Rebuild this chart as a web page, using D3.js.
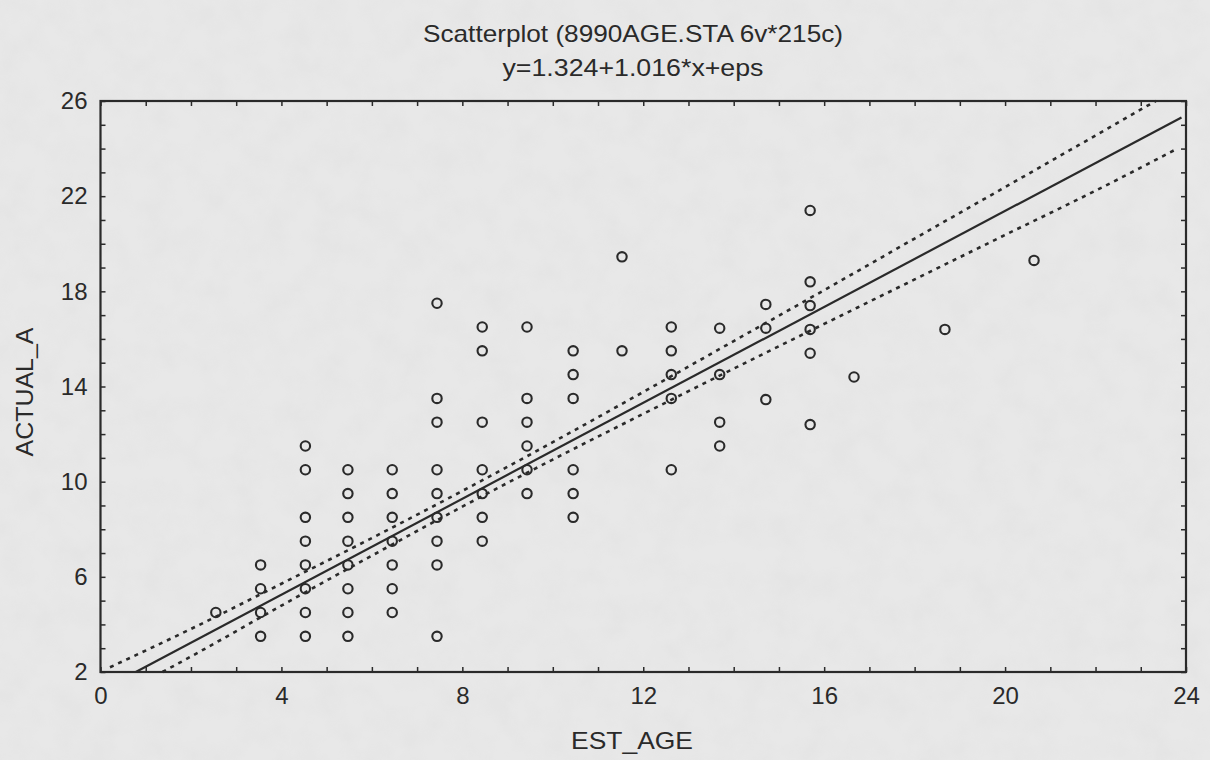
<!DOCTYPE html>
<html>
<head>
<meta charset="utf-8">
<script src="https://cdn.jsdelivr.net/npm/d3@7/dist/d3.min.js"></script>
<style>
  html, body { margin: 0; padding: 0; background: #e7e7e7; }
  svg { display: block; }
  text { font-family: "Liberation Sans", Arial, sans-serif; fill: #2a2a2a; }
</style>
</head>
<body>
<svg id="chart" width="1210" height="760"></svg>
<script>
// ---- data ----
const titleText = "Scatterplot (8990AGE.STA 6v*215c)";
const equationText = "y=1.324+1.016*x+eps";
const xLabel = "EST_AGE";
const yLabel = "ACTUAL_A";

const xTickLabels = [0, 4, 8, 12, 16, 20, 24];
const yTickLabels = [2, 6, 10, 14, 18, 22, 26];
const xMinorTicks = [0,1,2,3,4,5,6,7,8,9,10,11,12,13,14,15,16,17,18,19,20,21,22,23,24];
const yMinorTicks = [2,3,4,5,6,7,8,9,10,11,12,13,14,15,16,17,18,19,20,21,22,23,24,25,26];

const estAge = [
  2.55,
  3.54, 3.54, 3.54, 3.54,
  4.53, 4.53, 4.53, 4.53, 4.53, 4.53, 4.53, 4.53,
  5.47, 5.47, 5.47, 5.47, 5.47, 5.47, 5.47, 5.47,
  6.45, 6.45, 6.45, 6.45, 6.45, 6.45, 6.45,
  7.44, 7.44, 7.44, 7.44, 7.44, 7.44, 7.44, 7.44, 7.44,
  8.44, 8.44, 8.44, 8.44, 8.44, 8.44, 8.44,
  9.43, 9.43, 9.43, 9.43, 9.43, 9.43,
  10.45, 10.45, 10.45, 10.45, 10.45, 10.45,
  11.53, 11.53,
  12.62, 12.62, 12.62, 12.62, 12.62,
  13.69, 13.69, 13.69, 13.69,
  14.71, 14.71, 14.71,
  15.69, 15.69, 15.69, 15.69, 15.69, 15.69,
  16.66,
  18.67,
  20.64
];
const actualA = [
  4.5,
  6.5, 5.5, 4.5, 3.5,
  11.5, 10.5, 8.5, 7.5, 6.5, 5.5, 4.5, 3.5,
  10.5, 9.5, 8.5, 7.5, 6.5, 5.5, 4.5, 3.5,
  10.5, 9.5, 8.5, 7.5, 6.5, 5.5, 4.5,
  17.5, 13.5, 12.5, 10.5, 9.5, 8.5, 7.5, 6.5, 3.5,
  16.5, 15.5, 12.5, 10.5, 9.5, 8.5, 7.5,
  16.5, 13.5, 12.5, 11.5, 10.5, 9.5,
  15.5, 14.5, 13.5, 10.5, 9.5, 8.5,
  19.45, 15.5,
  16.5, 15.5, 14.5, 13.5, 10.5,
  16.45, 14.5, 12.5, 11.5,
  17.45, 16.45, 13.45,
  21.4, 18.4, 17.4, 16.4, 15.4, 12.4,
  14.4,
  16.4,
  19.3
];

// fitted line as drawn (end points)
const fitX = [0.78, 23.9];
const fitY = [2.0, 25.31];

// 95% confidence band as drawn
const upperX = [0.21, 2, 4, 6, 8, 10, 12, 14, 16, 18, 20, 22, 23.33];
const upperY = [2.2, 3.81, 5.71, 7.63, 9.61, 11.66, 13.77, 15.91, 18.05, 20.22, 22.38, 24.55, 26.0];
const lowerX = [1.37, 2, 4, 6, 8, 10, 12, 14, 16, 18, 20, 22, 23.76];
const lowerY = [2.0, 2.65, 4.79, 6.89, 8.95, 10.93, 12.85, 14.75, 16.63, 18.50, 20.37, 22.23, 23.95];

// ---- layout ----
const svg = d3.select("#chart");
const mLeft = 100.5, mRight = 1186, mTop = 101, mBottom = 672;
const ink = "#2a2a2a";
const fontFam = "'Liberation Sans', Arial, sans-serif";

const x = d3.scaleLinear().domain([0, 24]).range([mLeft, mRight]);
const y = d3.scaleLinear().domain([2, 26]).range([mBottom, mTop]);

// paper-like background
const defs = svg.append("defs");
const flt = defs.append("filter").attr("id", "paper").attr("x", 0).attr("y", 0).attr("width", "100%").attr("height", "100%");
flt.append("feTurbulence").attr("type", "fractalNoise").attr("baseFrequency", "0.035").attr("numOctaves", 3).attr("seed", 7);
flt.append("feColorMatrix").attr("type", "matrix")
  .attr("values", "0 0 0 0 0.5  0 0 0 0 0.5  0 0 0 0 0.5  0.6 0 0 0 -0.22");
svg.append("rect").attr("width", 1210).attr("height", 760).attr("fill", "#e8e8e8");
svg.append("rect").attr("width", 1210).attr("height", 760).attr("filter", "url(#paper)").attr("opacity", 0.25);

// titles
svg.append("text").attr("x", 633).attr("y", 42).attr("text-anchor", "middle")
  .attr("textLength", 420).attr("lengthAdjust", "spacingAndGlyphs")
  .style("font-size", "24px").text(titleText);
svg.append("text").attr("x", 633).attr("y", 76).attr("text-anchor", "middle")
  .attr("textLength", 261).attr("lengthAdjust", "spacingAndGlyphs")
  .style("font-size", "24px").text(equationText);

// axes
const fmtX = d => xTickLabels.includes(d) ? d : "";
const fmtY = d => yTickLabels.includes(d) ? d : "";

const gx = svg.append("g").attr("transform", `translate(0,${mBottom})`)
  .call(d3.axisBottom(x).tickValues(xMinorTicks).tickSize(-5).tickPadding(15).tickFormat(fmtX));
const gy = svg.append("g").attr("transform", `translate(${mLeft},0)`)
  .call(d3.axisLeft(y).tickValues(yMinorTicks).tickSize(-5).tickPadding(13).tickFormat(fmtY));
const gt = svg.append("g").attr("transform", `translate(0,${mTop})`)
  .call(d3.axisTop(x).tickValues(xMinorTicks).tickSize(-5).tickFormat(""));
const gr = svg.append("g").attr("transform", `translate(${mRight},0)`)
  .call(d3.axisRight(y).tickValues(yMinorTicks).tickSize(-5).tickFormat(""));

[gx, gy, gt, gr].forEach(g => {
  g.select(".domain").remove();
  g.selectAll(".tick line").attr("stroke", ink).attr("stroke-width", 1.5);
  g.selectAll(".tick text").style("font-size", "24px").style("font-family", fontFam).attr("fill", ink);
});

// frame
svg.append("rect").attr("x", x(0)).attr("y", y(26))
  .attr("width", x(24) - x(0)).attr("height", y(2) - y(26))
  .attr("fill", "none").attr("stroke", ink).attr("stroke-width", 2.2);

// axis titles
svg.append("text").attr("x", 632).attr("y", 749).attr("text-anchor", "middle")
  .attr("textLength", 122).attr("lengthAdjust", "spacingAndGlyphs")
  .style("font-size", "24px").text(xLabel);
svg.append("text").attr("transform", "translate(33,392) rotate(-90)").attr("text-anchor", "middle")
  .attr("textLength", 129).attr("lengthAdjust", "spacingAndGlyphs")
  .style("font-size", "24px").text(yLabel);

// lines
const line = d3.line().x(d => x(d[0])).y(d => y(d[1])).curve(d3.curveMonotoneX);
svg.append("path").datum(fitX.map((v, i) => [v, fitY[i]]))
  .attr("d", line).attr("fill", "none").attr("stroke", ink).attr("stroke-width", 2.2);
svg.append("path").datum(upperX.map((v, i) => [v, upperY[i]]))
  .attr("d", line).attr("fill", "none").attr("stroke", ink).attr("stroke-width", 2.6)
  .attr("stroke-dasharray", "4 5");
svg.append("path").datum(lowerX.map((v, i) => [v, lowerY[i]]))
  .attr("d", line).attr("fill", "none").attr("stroke", ink).attr("stroke-width", 2.6)
  .attr("stroke-dasharray", "4 5");

// points
svg.append("g").selectAll("circle").data(estAge.map((v, i) => [v, actualA[i]]))
  .join("circle")
  .attr("cx", d => x(d[0])).attr("cy", d => y(d[1])).attr("r", 4.7)
  .attr("fill", "none").attr("stroke", ink).attr("stroke-width", 2.1);
</script>
</body>
</html>
